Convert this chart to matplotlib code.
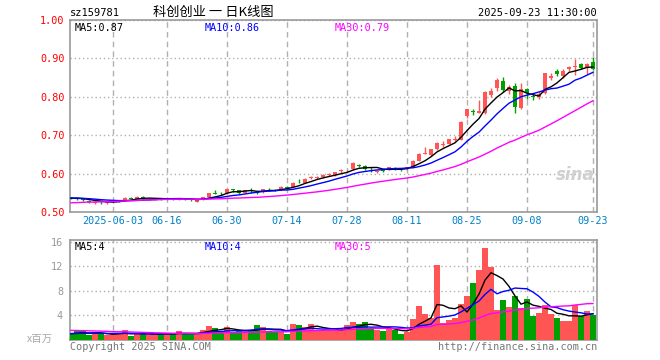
import matplotlib
matplotlib.use("Agg")
import matplotlib.pyplot as plt
import numpy as np
import pandas as pd

# trading days shown on the chart
dates = (
    ["2025-05-22", "2025-05-23", "2025-05-26", "2025-05-27", "2025-05-28", "2025-05-29", "2025-05-30"]
    + ["2025-06-03", "2025-06-04", "2025-06-05", "2025-06-06", "2025-06-09", "2025-06-10", "2025-06-11",
       "2025-06-12", "2025-06-13", "2025-06-16", "2025-06-17", "2025-06-18", "2025-06-19", "2025-06-20",
       "2025-06-23", "2025-06-24", "2025-06-25", "2025-06-26", "2025-06-27", "2025-06-30"]
    + ["2025-07-01", "2025-07-02", "2025-07-03", "2025-07-04", "2025-07-07", "2025-07-08", "2025-07-09",
       "2025-07-10", "2025-07-11", "2025-07-14", "2025-07-15", "2025-07-16", "2025-07-17", "2025-07-18",
       "2025-07-21", "2025-07-22", "2025-07-23", "2025-07-24", "2025-07-25", "2025-07-28", "2025-07-29",
       "2025-07-30", "2025-07-31"]
    + ["2025-08-01", "2025-08-04", "2025-08-05", "2025-08-06", "2025-08-07", "2025-08-08", "2025-08-11",
       "2025-08-12", "2025-08-13", "2025-08-14", "2025-08-15", "2025-08-18", "2025-08-19", "2025-08-20",
       "2025-08-21", "2025-08-22", "2025-08-25", "2025-08-26", "2025-08-27", "2025-08-28", "2025-08-29"]
    + ["2025-09-01", "2025-09-02", "2025-09-03", "2025-09-04", "2025-09-05", "2025-09-08", "2025-09-09",
       "2025-09-10", "2025-09-11", "2025-09-12", "2025-09-15", "2025-09-16", "2025-09-17", "2025-09-18",
       "2025-09-19", "2025-09-22", "2025-09-23"]
)

open_ = [0.537, 0.536, 0.533, 0.528, 0.524, 0.527, 0.524, 0.525, 0.527, 0.530,
         0.537, 0.535, 0.540, 0.533, 0.533, 0.534, 0.531, 0.535, 0.532, 0.535,
         0.532, 0.526, 0.532, 0.539, 0.550, 0.550, 0.549, 0.559, 0.557, 0.550,
         0.557, 0.553, 0.551, 0.560, 0.558, 0.557, 0.565, 0.566, 0.582, 0.576,
         0.589, 0.589, 0.590, 0.597, 0.596, 0.608, 0.606, 0.611, 0.623, 0.620,
         0.613, 0.603, 0.608, 0.610, 0.615, 0.612, 0.611, 0.617, 0.634, 0.651,
         0.648, 0.664, 0.675, 0.677, 0.688, 0.688, 0.750, 0.762, 0.759, 0.757,
         0.805, 0.822, 0.842, 0.816, 0.828, 0.770, 0.820, 0.801, 0.800, 0.809,
         0.850, 0.866, 0.855, 0.872, 0.877, 0.885, 0.875, 0.890]
high = [0.538, 0.538, 0.535, 0.530, 0.528, 0.528, 0.527, 0.528, 0.531, 0.538,
        0.538, 0.541, 0.541, 0.536, 0.536, 0.536, 0.536, 0.537, 0.536, 0.537,
        0.533, 0.531, 0.539, 0.550, 0.556, 0.553, 0.561, 0.561, 0.558, 0.558,
        0.562, 0.554, 0.560, 0.563, 0.560, 0.567, 0.567, 0.577, 0.587, 0.588,
        0.595, 0.594, 0.598, 0.602, 0.605, 0.611, 0.609, 0.629, 0.626, 0.622,
        0.618, 0.609, 0.611, 0.617, 0.618, 0.614, 0.618, 0.635, 0.653, 0.668,
        0.664, 0.681, 0.684, 0.691, 0.697, 0.736, 0.768, 0.767, 0.792, 0.814,
        0.824, 0.850, 0.851, 0.830, 0.837, 0.837, 0.822, 0.809, 0.812, 0.862,
        0.863, 0.873, 0.872, 0.881, 0.898, 0.889, 0.887, 0.903]
low = [0.533, 0.531, 0.529, 0.523, 0.522, 0.522, 0.522, 0.523, 0.526, 0.529,
       0.533, 0.534, 0.534, 0.531, 0.531, 0.531, 0.530, 0.530, 0.531, 0.530,
       0.529, 0.525, 0.531, 0.538, 0.546, 0.545, 0.548, 0.553, 0.548, 0.549,
       0.550, 0.547, 0.550, 0.555, 0.555, 0.556, 0.562, 0.565, 0.575, 0.575,
       0.585, 0.586, 0.589, 0.594, 0.595, 0.601, 0.605, 0.610, 0.617, 0.609,
       0.605, 0.602, 0.603, 0.609, 0.610, 0.607, 0.610, 0.616, 0.633, 0.650,
       0.647, 0.661, 0.670, 0.676, 0.686, 0.687, 0.745, 0.752, 0.758, 0.755,
       0.800, 0.814, 0.813, 0.806, 0.757, 0.768, 0.795, 0.792, 0.795, 0.808,
       0.845, 0.855, 0.849, 0.866, 0.857, 0.872, 0.860, 0.870]
close = [0.535, 0.534, 0.531, 0.525, 0.526, 0.525, 0.526, 0.527, 0.530, 0.537,
         0.535, 0.540, 0.535, 0.534, 0.534, 0.533, 0.535, 0.534, 0.534, 0.533,
         0.531, 0.530, 0.538, 0.549, 0.548, 0.549, 0.560, 0.558, 0.549, 0.557,
         0.556, 0.549, 0.559, 0.559, 0.557, 0.566, 0.563, 0.576, 0.580, 0.587,
         0.590, 0.590, 0.597, 0.598, 0.604, 0.609, 0.607, 0.628, 0.621, 0.611,
         0.612, 0.608, 0.607, 0.616, 0.614, 0.611, 0.617, 0.634, 0.652, 0.653,
         0.663, 0.680, 0.677, 0.690, 0.691, 0.735, 0.767, 0.760, 0.764, 0.813,
         0.816, 0.843, 0.818, 0.826, 0.774, 0.820, 0.809, 0.799, 0.808, 0.861,
         0.853, 0.860, 0.867, 0.877, 0.879, 0.875, 0.885, 0.873]
# volume, millions
volume = [1.0, 1.45, 1.45, 0.75, 1.2, 1.0, 0.8, 1.0, 1.1, 1.55,
          0.6, 1.0, 1.0, 1.0, 1.0, 1.0, 1.0, 1.0, 1.4, 1.1,
          0.9, 1.0, 1.7, 2.3, 2.0, 1.4, 2.1, 1.2, 1.5, 1.5,
          1.4, 2.5, 2.1, 1.5, 1.3, 1.3, 0.9, 2.6, 2.5, 2.1,
          2.6, 1.5, 1.5, 1.7, 1.7, 1.7, 2.4, 2.9, 2.6, 2.9,
          2.0, 1.7, 1.5, 2.0, 1.7, 0.9, 1.3, 3.4, 5.5, 4.2,
          3.6, 12.2, 2.8, 3.3, 3.6, 5.9, 7.2, 9.3, 11.4, 15.0,
          11.9, 4.9, 6.5, 5.4, 7.2, 5.2, 6.7, 3.9, 4.4, 5.7,
          4.2, 3.6, 3.1, 3.1, 5.7, 3.9, 4.7, 4.1]

# closes / volumes before the window, estimated from where the MA lines start
prev_close = [0.515, 0.512, 0.510, 0.513, 0.516, 0.514, 0.511, 0.509, 0.512, 0.515,
              0.518, 0.516, 0.519, 0.521, 0.518, 0.520, 0.523, 0.526, 0.530, 0.534,
              0.536, 0.538, 0.535, 0.537, 0.539, 0.536, 0.534, 0.537, 0.538]
prev_volume = [1.9, 2.1, 1.8, 2.0, 1.7, 1.9, 2.2, 1.8, 1.6, 1.9,
               2.0, 1.7, 1.8, 2.1, 1.9, 1.6, 1.8, 1.7, 1.5, 1.6,
               1.2, 1.0, 1.1, 0.9, 1.0, 1.2, 0.9, 1.0, 1.1]

tick_dates = ["2025-06-03", "2025-06-16", "2025-06-30", "2025-07-14", "2025-07-28",
              "2025-08-11", "2025-08-25", "2025-09-08", "2025-09-23"]
tick_labels = ["2025-06-03", "06-16", "06-30", "07-14", "07-28", "08-11", "08-25", "09-08", "09-23"]

RED = "#ff5555"
GREEN = "#00a000"
FRAME = "#999999"
MONO = "DejaVu Sans Mono"

n = len(close)
x = np.arange(n)
o = np.array(open_)
c = np.array(close)
up = c >= o
colors = [RED if u else GREEN for u in up]

all_close = pd.Series(prev_close + close)
all_vol = pd.Series(prev_volume + volume)
k = len(prev_close)
ma = {w: all_close.rolling(w).mean().values[k:] for w in (5, 10, 30)}
vma = {w: all_vol.rolling(w).mean().values[k:] for w in (5, 10, 30)}
ma_colors = {5: "black", 10: "#0000ff", 30: "#ff00ff"}

fig = plt.figure(figsize=(6.6, 3.6), dpi=100)
W, H = 660, 360
ax = fig.add_axes([70 / W, 1 - 212 / H, 527 / W, 192 / H])
axv = fig.add_axes([70 / W, 1 - 340 / H, 527 / W, 100 / H])

tick_pos = [dates.index(d) for d in tick_dates]

# --- candles
ax.vlines(x, low, high, colors=colors, linewidth=1, zorder=3)
body_bottom = np.minimum(o, c)
body_h = np.maximum(np.abs(c - o), 0.0012)
ax.bar(x, body_h, bottom=body_bottom, width=0.8, color=colors, linewidth=0, zorder=3)
for w in (5, 10, 30):
    ax.plot(x, ma[w], color=ma_colors[w], linewidth=1, zorder=4)

# --- volume
axv.bar(x, volume, width=0.85, color=colors, linewidth=0, zorder=3)
for w in (5, 10, 30):
    axv.plot(x, vma[w], color=ma_colors[w], linewidth=1, zorder=4)

xlim = (-1 / 6, 526 / 6)
for a in (ax, axv):
    a.set_xlim(*xlim)
    for s in a.spines.values():
        s.set_color(FRAME)
        s.set_linewidth(1.2)
    a.set_xticks(tick_pos)
    a.grid(axis="x", color="#b0b0b0", linestyle=(0, (4, 3)), linewidth=1)
    a.grid(axis="y", color="#b0b0b0", linestyle=(0, (1, 2)), linewidth=1)
    a.set_axisbelow(True)
    a.tick_params(length=0)

ax.set_ylim(0.50, 1.00)
ax.set_yticks([0.5, 0.6, 0.7, 0.8, 0.9, 1.0])
ax.set_yticklabels(["%.2f" % v for v in [0.5, 0.6, 0.7, 0.8, 0.9, 1.0]],
                   color="red", fontsize=7.3, family=MONO)
ax.set_xticklabels(tick_labels, color="#0080c8", fontsize=7.3, family=MONO)
ax.tick_params(axis="x", pad=3)
ax.tick_params(axis="y", pad=4)

axv.set_ylim(0, 16.3)
axv.set_yticks([4, 8, 12, 16])
axv.set_yticklabels(["4", "8", "12", "16"], color="#999999", fontsize=7.3, family=MONO)
axv.set_xticklabels([])
axv.tick_params(axis="y", pad=5)

# --- texts
def px(xp, yp):
    return xp / W, 1 - yp / H

fig.text(*px(70, 13), "sz159781", fontsize=7.5, family=MONO, va="center", ha="left")
fig.text(*px(213, 12), "科创创业 一 日K线图", fontsize=9.5,
         family=["Noto Sans CJK SC", "DejaVu Sans"], va="center", ha="center")
fig.text(*px(597, 13), "2025-09-23 11:30:00", fontsize=7.5, family=MONO, va="center", ha="right")

ax.text(*px(75, 28), "MA5:0.87", transform=fig.transFigure, fontsize=7.3, family=MONO,
        color="black", va="center")
ax.text(*px(205, 28), "MA10:0.86", transform=fig.transFigure, fontsize=7.3, family=MONO,
        color="#0000ff", va="center")
ax.text(*px(335, 28), "MA30:0.79", transform=fig.transFigure, fontsize=7.3, family=MONO,
        color="#ff00ff", va="center")
axv.text(*px(75, 247), "MA5:4", transform=fig.transFigure, fontsize=7.3, family=MONO,
         color="black", va="center")
axv.text(*px(205, 247), "MA10:4", transform=fig.transFigure, fontsize=7.3, family=MONO,
         color="#0000ff", va="center")
axv.text(*px(335, 247), "MA30:5", transform=fig.transFigure, fontsize=7.3, family=MONO,
         color="#ff00ff", va="center")

# sina watermark
fig.text(*px(575, 175), "sina", fontsize=12, fontweight="bold", style="italic",
         color="#d0d0d0", ha="center", va="center")

fig.text(*px(40, 339), "x百万", fontsize=7.5, color="#aaaaaa",
         family=["Noto Sans CJK SC", "DejaVu Sans"], ha="center", va="center")
fig.text(*px(70, 347), "Copyright 2025 SINA.COM", fontsize=7.3, family=MONO,
         color="#777777", ha="left", va="center")
fig.text(*px(597, 347), "http://finance.sina.com.cn", fontsize=7.3, family=MONO,
         color="#777777", ha="right", va="center")

fig.savefig("out.png", dpi=100)
